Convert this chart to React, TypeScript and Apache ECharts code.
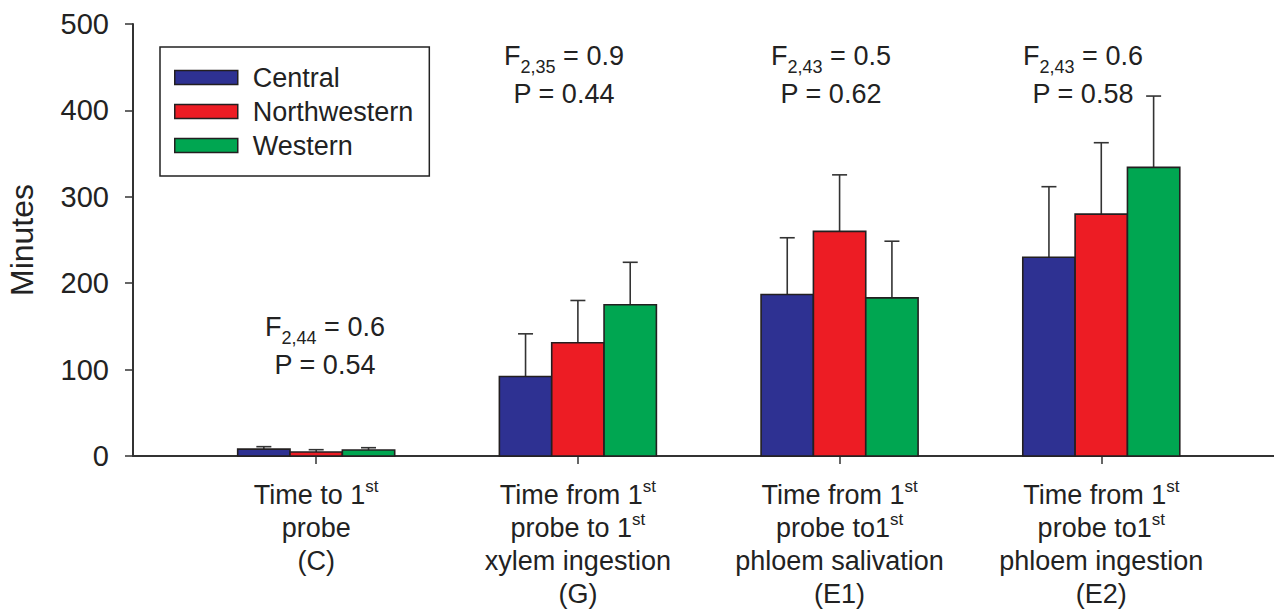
import React, { useEffect, useRef } from "react";
import * as echarts from "echarts";

const categories = [
  "{a|Time to 1}{s|st}\n{a|probe}\n{a|(C)}",
  "{a|Time from 1}{s|st}\n{a|probe to 1}{s|st}\n{a|xylem ingestion}\n{a|(G)}",
  "{a|Time from 1}{s|st}\n{a|probe to1}{s|st}\n{a|phloem salivation}\n{a|(E1)}",
  "{a|Time from 1}{s|st}\n{a|probe to1}{s|st}\n{a|phloem ingestion}\n{a|(E2)}",
];
const seriesNames = ["Central", "Northwestern", "Western"];
const seriesColors = ["#2E3192", "#ED1C24", "#00A651"];
const central = [8, 92, 187, 230];
const centralErr = [2.8, 49.4, 65.6, 81.7];
const northwestern = [4.6, 131, 260, 280];
const northwesternErr = [2.7, 49, 65.4, 82.6];
const western = [7, 175, 183, 334];
const westernErr = [2.6, 49.2, 65.6, 82.6];
const statsF = [["2,44", "0.6"], ["2,35", "0.9"], ["2,43", "0.5"], ["2,43", "0.6"]];
const statsP = ["0.54", "0.44", "0.62", "0.58"];
const yTicks = [0, 100, 200, 300, 400, 500];

const FONT = "'Liberation Sans', Arial, sans-serif";
const BAR_FRAC = 0.2;

export default function App() {
  const ref = useRef<HTMLDivElement>(null);
  useEffect(() => {
    if (!ref.current) return;
    const chart = echarts.init(ref.current, undefined, { renderer: "svg" });
    const values = [central, northwestern, western];
    const errs = [centralErr, northwesternErr, westernErr];

    const series = seriesNames.map((name, si) => ({
      type: "custom",
      name,
      itemStyle: { color: seriesColors[si] },
      data: values[si].map((v, i) => [i, v, errs[si][i]]),
      renderItem: (params: any, api: any) => {
        const x = api.value(0);
        const y = api.value(1);
        const e = api.value(2);
        const base = api.coord([x, 0]);
        const top = api.coord([x, y]);
        const errTop = api.coord([x, y + e]);
        const w = api.size([1, 0])[0] * BAR_FRAC;
        const cx = base[0] + (si - 1) * w;
        return {
          type: "group",
          children: [
            {
              type: "line",
              shape: { x1: cx, y1: top[1], x2: cx, y2: errTop[1] },
              style: { stroke: "#333", lineWidth: 1.6 },
            },
            {
              type: "line",
              shape: { x1: cx - 7.5, y1: errTop[1], x2: cx + 7.5, y2: errTop[1] },
              style: { stroke: "#333", lineWidth: 1.6 },
            },
            {
              type: "rect",
              shape: { x: cx - w / 2, y: top[1], width: w, height: base[1] - top[1] },
              style: { fill: seriesColors[si], stroke: "#231F20", lineWidth: 1.6 },
            },
          ],
        };
      },
    }));

    const statCenters = [325, 564, 831, 1083];
    const statTops = [307, 36, 36, 36];
    const graphic = statCenters.map((cx, i) => ({
      type: "text",
      x: cx,
      y: statTops[i],
      style: {
        text: `{a|F}{s|${statsF[i][0]}}{a| = ${statsF[i][1]}}\n{b|P = ${statsP[i]}}`,
        align: "center",
        verticalAlign: "top",
        fill: "#222",
        rich: {
          a: { fontSize: 27, lineHeight: 40, fontFamily: FONT, fill: "#222" },
          s: { fontSize: 18, lineHeight: 18, verticalAlign: "bottom", fontFamily: FONT, fill: "#222" },
          b: { fontSize: 27, lineHeight: 35, fontFamily: FONT, fill: "#222" },
        },
      },
    }));

    chart.setOption({
      animation: false,
      grid: { left: 133, right: 0, top: 24, bottom: 154, outerBoundsMode: "none", containLabel: false },
      legend: {
        orient: "vertical",
        left: 160,
        top: 47,
        padding: [17, 16, 17, 14],
        borderColor: "#222",
        borderWidth: 1.5,
        itemWidth: 63,
        itemHeight: 14,
        itemGap: 7,
        textStyle: { fontSize: 27, fontFamily: FONT, color: "#222", padding: [0, 0, 0, 10] },
        data: seriesNames.map((n, i) => ({
          name: n,
          icon: "rect",
          itemStyle: { color: seriesColors[i], borderColor: "#231F20", borderWidth: 1.5 },
        })),
      },
      xAxis: {
        type: "value",
        min: -0.7,
        max: 3.66,
        splitLine: { show: false },
        axisLine: { show: true, onZero: false, lineStyle: { color: "#333", width: 2 } },
        axisTick: { show: true, customValues: [0, 1, 2, 3], length: 8, lineStyle: { color: "#333", width: 1.5 } },
        axisLabel: {
          customValues: [0, 1, 2, 3],
          margin: 22,
          formatter: (v: number) => categories[Math.round(v)],
          rich: {
            a: { fontSize: 27, lineHeight: 33, fontFamily: FONT, color: "#222" },
            s: { fontSize: 17, lineHeight: 17, verticalAlign: "top", fontFamily: FONT, color: "#222" },
          },
        },
      },
      yAxis: {
        type: "value",
        min: yTicks[0],
        max: yTicks[yTicks.length - 1],
        interval: 100,
        name: "Minutes",
        nameLocation: "middle",
        nameGap: 95,
        nameTextStyle: { fontSize: 32, fontFamily: FONT, color: "#222" },
        splitLine: { show: false },
        axisLine: { show: true, onZero: false, lineStyle: { color: "#333", width: 2 } },
        axisTick: { show: true, inside: false, length: 8, lineStyle: { color: "#333", width: 1.5 } },
        axisLabel: { fontSize: 29, fontFamily: FONT, color: "#222", margin: 24 },
      },
      series,
      graphic,
    });
    return () => chart.dispose();
  }, []);
  return (
    <div
      ref={ref}
      style={{ position: "fixed", left: 0, top: 0, width: 1274, height: 610, background: "#fff" }}
    />
  );
}
